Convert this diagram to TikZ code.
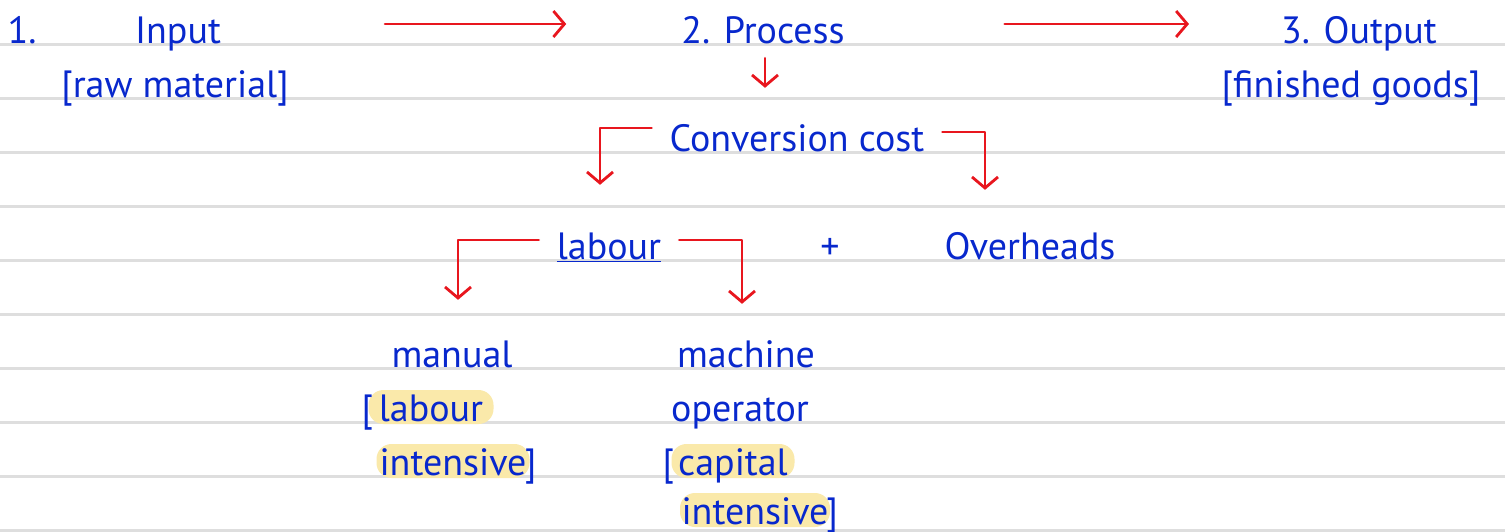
\documentclass[tikz,border=0pt]{standalone}
\usepackage{fontspec}
\setmainfont{PT Sans}
\usetikzlibrary{arrows.meta}
\definecolor{ink}{RGB}{8,40,205}
\definecolor{penred}{RGB}{232,22,30}
\definecolor{marker}{RGB}{250,233,170}
\definecolor{ruling}{RGB}{222,222,222}
\newcommand{\handfont}{\fontsize{38}{44}\selectfont}
\tikzstyle{ruled} = [ruling, line width=3pt]
\tikzstyle{word} = [text=ink, font=\handfont, anchor=base, inner xsep=18pt, inner ysep=2pt, text height=38pt, text depth=0pt]
\tikzstyle{marked} = [word, fill=marker, rounded corners=15pt, inner xsep=0pt, inner ysep=3pt, text height=28pt]
\tikzstyle{bracket} = [text=ink, font=\handfont, inner sep=0pt]
\tikzstyle{arrow} = [penred, line width=2.8pt, line cap=round, line join=round, -{Straight Barb[length=11pt,width=26pt]}]

\begin{document}
\begin{tikzpicture}[x=1pt, y=-1pt]
    \fill[white] (0,0) rectangle (1505,531);
    \useasboundingbox (0,0) rectangle (1505,531);
    % Ruled paper
    \foreach \y in {44,98,...,530}
        \draw[ruled] (0,\y) -- (1505,\y);

    % Nodes
    \node (one) [word] at (22,43) {1.};
    \node (input) [word] at (178,43) {Input};
    \node (raw) [word] at (175,97) {[raw material]};
    \node (process) [word] at (763,43) {2. Process};
    \node (output) [word] at (1359,43) {3. Output};
    \node (finished) [word] at (1351,97) {[finished goods]};
    \node (conv) [word] at (797,151) {Conversion cost};
    \node (labour) [word] at (609,259) {\underline{labour}};
    \node (plus) [word] at (830,259) {+};
    \node (over) [word] at (1030,259) {Overheads};
    \node (manual) [word] at (452,367) {manual};
    \node (labhl) [marked, minimum width=125pt] at (431,421) {labour};
    \node (labbr) [bracket, anchor=base east] at ([xshift=5pt]labhl.base west) {[};
    \node (inthl) [marked, minimum width=153pt] at (453,475) {intensive};
    \node (intbr) [bracket, anchor=base west] at ([xshift=-5pt]inthl.base east) {]};
    \node (machine) [word] at (746,367) {machine};
    \node (operator) [word] at (740,421) {operator};
    \node (caphl) [marked, minimum width=123pt] at (733,475) {capital};
    \node (capbr) [bracket, anchor=base east] at ([xshift=3pt]caphl.base west) {[};
    \node (int2hl) [marked, minimum width=150pt] at (755,524) {intensive};
    \node (int2br) [bracket, anchor=base west] at ([xshift=-4pt]int2hl.base east) {]};

    % Arrows
    \draw [arrow, shorten <=146pt, shorten >=97pt] (input.east) -- (process.west);
    \draw [arrow, shorten <=142pt, shorten >=74pt] (process.east) -- (output.west);
    \draw [arrow, shorten <=13pt, shorten >=23pt] ([xshift=2pt]process.south) -- ([xshift=2pt]process.south |- conv.north);
    \draw [arrow, shorten >=34pt] ([yshift=4pt]conv.west) -| ([xshift=-9pt]labour.north);
    \draw [arrow, shorten >=29pt] (conv.east) -| ([xshift=-45pt]over.north);
    \draw [arrow, shorten >=27pt] (labour.west) -| ([xshift=6pt]manual.north);
    \draw [arrow, shorten >=23pt] (labour.east) -| ([xshift=-4pt]machine.north);
\end{tikzpicture}
\end{document}
